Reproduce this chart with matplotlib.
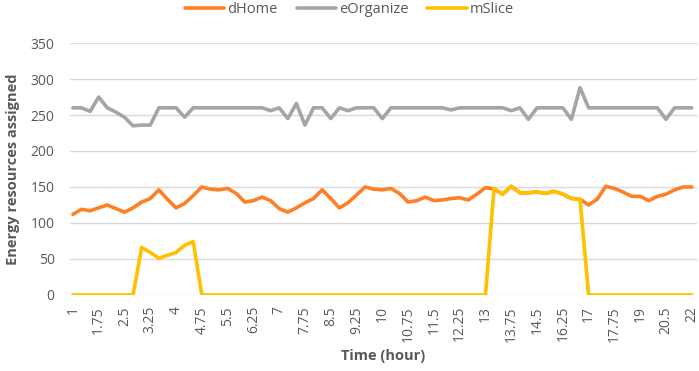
import matplotlib
matplotlib.use("Agg")
import matplotlib.pyplot as plt

# ── Data ──────────────────────────────────────────────────────────────────────
times = ["1", "1.25", "1.5", "1.75", "2", "2.25", "2.5", "2.75", "3", "3.25",
         "3.5", "3.75", "4", "4.25", "4.5", "4.75", "5", "5.25", "5.5", "5.75",
         "6", "6.25", "6.5", "6.75", "7", "7.25", "7.5", "7.75", "8", "8.25",
         "8.5", "8.75", "9", "9.25", "9.5", "9.75", "10", "10.25", "10.5", "10.75",
         "11", "11.25", "11.5", "11.75", "12", "12.25", "12.5", "12.75", "13", "13.25",
         "13.5", "13.75", "14", "14.25", "14.5", "15", "15.75", "16.25", "16.5", "16.75",
         "17", "17.25", "17.5", "17.75", "18", "18.5", "19", "19.5", "20", "20.5",
         "21", "21.5", "22"]

dhome = [112, 119, 117, 121, 125, 120, 115, 121, 129, 134,
         146, 133, 121, 127, 138, 150, 147, 146, 148, 141,
         129, 131, 136, 131, 120, 115, 121, 128, 134, 146,
         134, 121, 128, 139, 150, 147, 146, 148, 141, 129,
         131, 136, 131, 132, 134, 135, 132, 140, 149, 147,
         140, 151, 142, 142, 143, 141, 144, 140, 134, 133,
         125, 133, 151, 148, 143, 137, 137, 131, 137, 140,
         146, 150, 150]

eorganize = [260, 260, 255, 275, 260, 254, 247, 235, 236, 236,
             260, 260, 260, 247, 260, 260, 260, 260, 260, 260,
             260, 260, 260, 256, 260, 245, 266, 236, 260, 260,
             245, 260, 256, 260, 260, 260, 245, 260, 260, 260,
             260, 260, 260, 260, 257, 260, 260, 260, 260, 260,
             260, 256, 260, 244, 260, 260, 260, 260, 244, 288,
             260, 260, 260, 260, 260, 260, 260, 260, 260, 244,
             260, 260, 260]

mslice = [0, 0, 0, 0, 0, 0, 0, 0, 66, 59,
          51, 55, 59, 69, 74, 0, 0, 0, 0, 0,
          0, 0, 0, 0, 0, 0, 0, 0, 0, 0,
          0, 0, 0, 0, 0, 0, 0, 0, 0, 0,
          0, 0, 0, 0, 0, 0, 0, 0, 0, 148,
          140, 151, 142, 142, 143, 141, 144, 140, 134, 133,
          0, 0, 0, 0, 0, 0, 0, 0, 0, 0,
          0, 0, 0]

series = [("dHome", dhome, "#FF7F27"),
          ("eOrganize", eorganize, "#A5A5A5"),
          ("mSlice", mslice, "#FFC000")]

TEXT = "#595959"
plt.rcParams["font.family"] = ["Open Sans", "DejaVu Sans"]

# ── Plot ──────────────────────────────────────────────────────────────────────
fig, ax = plt.subplots(figsize=(6.99, 3.71), dpi=100)
fig.subplots_adjust(left=0.100, right=0.997, top=0.884, bottom=0.205)

pos = list(range(len(times)))
for name, vals, col in series:
    ax.plot(pos, vals, color=col, linewidth=2.6, label=name,
            solid_joinstyle="round", solid_capstyle="round")

ax.set_ylim(0, 350)
ax.set_yticks(range(0, 351, 50))
ax.set_xlim(-0.35, 72.6)
ax.set_xticks(pos[::3])
ax.set_xticklabels(times[::3], rotation=90)

ax.grid(axis="y", color="#D9D9D9", linewidth=1.0)
ax.set_axisbelow(True)
for s in ax.spines.values():
    s.set_visible(False)
ax.tick_params(axis="both", length=0, labelsize=10, colors=TEXT)
ax.tick_params(axis="y", pad=11)
ax.tick_params(axis="x", pad=8)

ax.set_xlabel("Time (hour)", fontsize=10.5, fontweight="bold", color=TEXT,
              labelpad=5)
ax.set_ylabel("Energy resources assigned", fontsize=10.5, fontweight="bold",
              color=TEXT, labelpad=8)

fig.legend(loc="upper center", bbox_to_anchor=(0.5, 1.03), ncol=3,
           frameon=False, fontsize=10.5, handlelength=2.7, handletextpad=0.2,
           columnspacing=1.3, labelcolor=TEXT)

fig.savefig("out.png", dpi=100)
